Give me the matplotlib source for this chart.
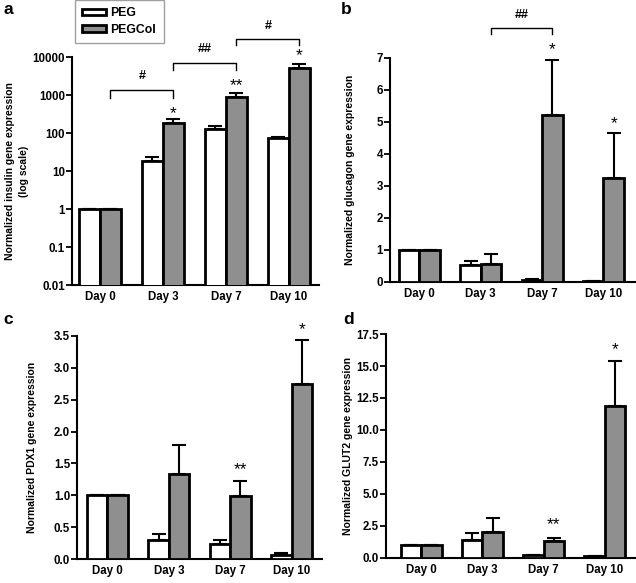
import numpy as np
import matplotlib
matplotlib.use('Agg')
import matplotlib.pyplot as plt
from matplotlib.patches import Patch

plt.rcParams['font.family'] = ['Liberation Sans', 'DejaVu Sans']

days = ['Day 0', 'Day 3', 'Day 7', 'Day 10']

# a - insulin (log scale)
ins_peg = [1.0, 18.3, 125, 75]
ins_peg_err = [0, 5.5, 30, 5]
ins_col = [1.0, 183, 900, 5000]
ins_col_err = [0, 50, 200, 1400]

# b - glucagon
glu_peg = [1.0, 0.52, 0.06, 0.02]
glu_peg_err = [0, 0.14, 0.04, 0]
glu_col = [1.0, 0.57, 5.21, 3.25]
glu_col_err = [0, 0.29, 1.74, 1.41]

# c - PDX1
pdx_peg = [1.0, 0.30, 0.235, 0.07]
pdx_peg_err = [0, 0.10, 0.065, 0.02]
pdx_col = [1.0, 1.33, 0.99, 2.74]
pdx_col_err = [0, 0.46, 0.24, 0.70]

# d - GLUT2
glut_peg = [1.0, 1.43, 0.2, 0.15]
glut_peg_err = [0, 0.52, 0, 0]
glut_col = [1.0, 2.0, 1.35, 11.85]
glut_col_err = [0, 1.1, 0.25, 3.55]

W, H = 636, 583
GRAY = '#8f8f8f'

fig = plt.figure(figsize=(W / 100, H / 100), dpi=100)


def make_ax(l, r, t, b):
    return fig.add_axes([l / W, 1 - b / H, (r - l) / W, (b - t) / H])


def draw(ax, peg, peg_err, col, col_err, ylabel, xlim, spacer=True):
    x = np.arange(len(days)) * 3
    kw = dict(width=1, align='edge', edgecolor='black', linewidth=2, zorder=3)
    ax.bar(x, peg, color='white', **kw)
    ax.bar(x + 1, col, color=GRAY, **kw)
    if spacer:
        ax.bar(x[:-1] + 2, np.zeros(len(days) - 1), color='white', **kw)
    ekw = dict(fmt='none', ecolor='black', elinewidth=1.5, capsize=5, capthick=1.5, zorder=2)
    ax.errorbar(x + 0.5, peg, yerr=[np.zeros(len(peg)), peg_err], **ekw)
    ax.errorbar(x + 1.5, col, yerr=[np.zeros(len(col)), col_err], **ekw)
    ax.set_xticks(x + 1)
    ax.set_xticklabels(days, fontsize=8.3, fontweight='bold')
    ax.tick_params(axis='x', length=0, pad=4)
    ax.tick_params(axis='y', length=4, width=1.3, labelsize=8.3, pad=1)
    ax.set_xlim(*xlim)
    for s in ['top', 'right']:
        ax.spines[s].set_visible(False)
    for s in ['left', 'bottom']:
        ax.spines[s].set_linewidth(1.5)
    ax.set_ylabel(ylabel, fontsize=7.5, fontweight='bold', linespacing=1.5)


def bracket(ax, x1, x2, y_top, y_bot, label, y_lab):
    ax.plot([x1, x1, x2, x2], [y_bot, y_top, y_top, y_bot], color='black', lw=1, clip_on=False)
    ax.text((x1 + x2) / 2, y_lab, label, ha='center', va='center', fontsize=9, fontweight='bold')


def star(ax, xc, y, s):
    ax.text(xc, y, s, ha='center', va='center', fontsize=12.5)


# panel a
ax_a = make_ax(72, 319, 57, 285)
ax_a.set_yscale('log')
ax_a.set_ylim(0.01, 10000)
draw(ax_a, ins_peg, ins_peg_err, ins_col, ins_col_err,
     'Normalized insulin gene expression\n(log scale)', (-0.33, 11.43), spacer=False)
ax_a.set_yticks([0.01, 0.1, 1, 10, 100, 1000, 10000])
ax_a.set_yticklabels(['0.01', '0.1', '1', '10', '100', '1000', '10000'])
ax_a.minorticks_off()
ax_a.yaxis.set_label_coords(-0.174, 0.5)
star(ax_a, 4.5, 330, '*')
star(ax_a, 7.5, 1800, '**')
star(ax_a, 10.5, 11000, '*')
bracket(ax_a, 1.5, 4.5, 1350, 820, '#', 3200)
bracket(ax_a, 4.5, 7.5, 6800, 4500, '##', 16000)
bracket(ax_a, 7.5, 10.5, 29000, 21000, '#', 65000)
leg = ax_a.legend(handles=[Patch(facecolor='white', edgecolor='black', linewidth=2, label='PEG'),
                           Patch(facecolor=GRAY, edgecolor='black', linewidth=2, label='PEGCol')],
                  loc='upper left', bbox_to_anchor=(75 / W, 1.0), bbox_transform=fig.transFigure,
                  fancybox=False, edgecolor='#888888', handlelength=1.9, handleheight=0.45,
                  handletextpad=0.4, borderpad=0.6, labelspacing=0.35, borderaxespad=0,
                  prop={'size': 8.8, 'weight': 'bold'})
leg.get_frame().set_linewidth(1)

# panel b
ax_b = make_ax(390, 636, 58, 282)
ax_b.set_ylim(0, 7)
draw(ax_b, glu_peg, glu_peg_err, glu_col, glu_col_err,
     'Normalized glucagon gene expression', (-0.44, 11.59))
ax_b.set_yticks(range(0, 8))
ax_b.set_yticklabels([str(v) for v in range(0, 8)])
ax_b.yaxis.set_label_coords(-0.142, 0.5)
star(ax_b, 7.5, 7.25, '*')
star(ax_b, 10.5, 4.95, '*')
bracket(ax_b, 4.5, 7.5, 7.95, 7.76, '##', 8.35)

# panel c
ax_c = make_ax(77, 322, 336, 559)
ax_c.set_ylim(0, 3.5)
draw(ax_c, pdx_peg, pdx_peg_err, pdx_col, pdx_col_err,
     'Normalized PDX1 gene expression', (-0.49, 11.49))
ticks_c = np.arange(0, 3.51, 0.5)
ax_c.set_yticks(ticks_c)
ax_c.set_yticklabels(['%.1f' % v for v in ticks_c])
ax_c.yaxis.set_label_coords(-0.163, 0.5)
star(ax_c, 7.5, 1.40, '**')
star(ax_c, 10.5, 3.60, '*')

# panel d
ax_d = make_ax(386, 636, 334, 558)
ax_d.set_ylim(0, 17.5)
draw(ax_d, glut_peg, glut_peg_err, glut_col, glut_col_err,
     'Normalized GLUT2 gene expression', (-0.72, 11.53))
ticks_d = np.arange(0, 17.6, 2.5)
ax_d.set_yticks(ticks_d)
ax_d.set_yticklabels(['%.1f' % v for v in ticks_d])
ax_d.yaxis.set_label_coords(-0.132, 0.5)
star(ax_d, 7.5, 2.6, '**')
star(ax_d, 10.5, 16.3, '*')

for ax in [ax_a, ax_b, ax_c, ax_d]:
    for lab in ax.get_yticklabels():
        lab.set_fontweight('bold')

for lab, (px, py) in zip('abcd', [(3, 10), (341, 10), (3, 320), (343, 320)]):
    fig.text(px / W, 1 - py / H, lab, fontsize=12.5, fontweight='bold', va='center', ha='left')

fig.savefig('out.png', dpi=100)
